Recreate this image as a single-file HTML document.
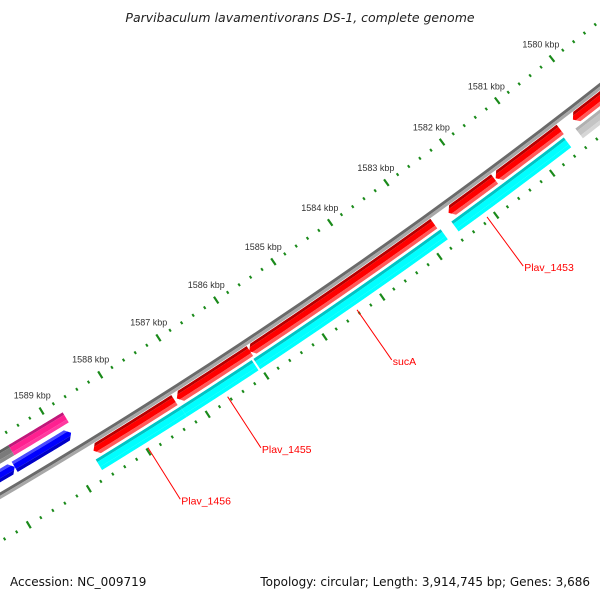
<!DOCTYPE html>
<html><head><meta charset="utf-8"><style>
body{margin:0;background:#fff}
svg{display:block;font-family:"Liberation Sans",sans-serif}
</style></head><body>
<svg id="map" width="600" height="600" viewBox="0 0 600 600" xmlns="http://www.w3.org/2000/svg">
<rect width="600" height="600" fill="#fff"/>
<text x="300" y="22" text-anchor="middle" font-size="12.5" font-style="italic" fill="#222" style="font-family:'DejaVu Sans',sans-serif">Parvibaculum lavamentivorans DS-1, complete genome</text>
<g id="rings"></g>
<text x="10" y="586" font-size="12" fill="#111" style="font-family:'DejaVu Sans',sans-serif">Accession: NC_009719</text>
<text x="590" y="586" text-anchor="end" font-size="12" fill="#111" style="font-family:'DejaVu Sans',sans-serif">Topology: circular; Length: 3,914,745 bp; Genes: 3,686</text>
</svg>
<script>
// data (bp)
const redStarts=[1578000,1580530,1581710,1582790,1586000,1587290];
const redEnds=[1580300,1581690,1582530,1586010,1587250,1588660];
const redNames=["gene-a","gene-b","Plav_1453","sucA","Plav_1455","Plav_1456"];
const cyanStarts=[1580560,1582760,1586050,1587270];
const cyanEnds=[1582570,1586020,1587270,1588700];
const lgrayStarts=[1578000];
const lgrayEnds=[1580350];
const pinkStarts=[1588750];
const pinkEnds=[1589670];
const dgrayStarts=[1589670];
const dgrayEnds=[1592500];
const blueStarts=[1588800,1589750];
const blueEnds=[1589750,1592500];
const labelNames=["Plav_1453","sucA","Plav_1455","Plav_1456"];
const labelGenes=[2,3,4,5];
const tickKbp=[];for(let k=15780;k<=15920;k+=2)tickKbp.push(k/10);
const majorLabels=[1580,1581,1582,1583,1584,1585,1586,1587,1588,1589,1590];

const NS="http://www.w3.org/2000/svg";
const CX=-2749,CY=-4177;
function phi(bp){return (52.07+(bp/1000-1580)*0.7356)*Math.PI/180;}
function pt(bp,r){const a=phi(bp);return [CX+r*Math.cos(a),CY+r*Math.sin(a)];}
const g=document.getElementById('rings');
function el(tag,attrs){const e=document.createElementNS(NS,tag);for(const k in attrs)e.setAttribute(k,attrs[k]);g.appendChild(e);return e;}
function arcPts(b1,b2,r,n){const p=[];for(let i=0;i<=n;i++){p.push(pt(b1+(b2-b1)*i/n,r));}return p;}
function band(b1,b2,r0,r1){const a=arcPts(b1,b2,r0,30),b=arcPts(b2,b1,r1,30);return a.concat(b).map(p=>p[0].toFixed(2)+','+p[1].toFixed(2)).join(' ');}
const pxbp=69;
function arrowShape(b1,b2,r0,r1,dir){
  const d=5/pxbp*1000, rm=(r0+r1)/2;let pts=[];
  if(dir===1){pts=arcPts(b1,b2-d,r0,30).concat([pt(b2,rm)]).concat(arcPts(b2-d,b1,r1,30));}
  else if(dir===-1){pts=[pt(b1,rm)].concat(arcPts(b1+d,b2,r0,30)).concat(arcPts(b2,b1+d,r1,30));}
  else{pts=arcPts(b1,b2,r0,30).concat(arcPts(b2,b1,r1,30));}
  return pts.map(p=>p[0].toFixed(2)+','+p[1].toFixed(2)).join(' ');}
let cid=0;
function gene(b1,b2,r0,r1,cols,dir,name){
  const id='c'+(cid++);
  const cp=document.createElementNS(NS,'clipPath');cp.setAttribute('id',id);
  const poly=document.createElementNS(NS,'polygon');poly.setAttribute('points',arrowShape(b1,b2,r0,r1,dir));cp.appendChild(poly);
  g.appendChild(cp);
  const grp=el('g',{'clip-path':'url(#'+id+')'});
  
  
  const w=r1-r0;
  const parts=[[r0,r0+w*0.25,cols[0]],[r0+w*0.25,r1-w*0.3,cols[1]],[r1-w*0.3,r1,cols[2]]];
  parts.forEach(p=>{const q=document.createElementNS(NS,'polygon');q.setAttribute('points',band(b1-200,b2+200,p[0],p[1]));q.setAttribute('fill',p[2]);grp.appendChild(q);});
}
const bb=el('polygon',{points:band(1577000,1593000,5418.5,5421.5),fill:'#6a6a6a'});


const bb2=el('polygon',{points:band(1577000,1593000,5421.5,5424.5),fill:'#a8a8a8'});


[5370,5461].forEach((r,ri)=>{tickKbp.forEach(k=>{const major=Math.abs(k-Math.round(k))<1e-6;const h=major?4:1.5;
  const a=pt(k*1000,r-h),b=pt(k*1000,r+h);
  const t=el('line',{x1:a[0],y1:a[1],x2:b[0],y2:b[1],stroke:'#1a8a1a','stroke-width':major?2.2:2});
  
  });});
majorLabels.forEach(k=>{const p=pt(k*1000,5352);const t=el('text',{x:p[0],y:p[1]+3,'text-anchor':'middle','font-size':9,fill:'#333'});t.textContent=k+' kbp';
  
  });
redStarts.forEach((s,i)=>gene(s,redEnds[i],5425,5437,['#b80000','#ff0000','#ff5a5a'],1,'gene-'+redNames[i]));
cyanStarts.forEach((s,i)=>gene(s,cyanEnds[i],5439.5,5452,['#00c4c4','#00ffff','#00ffff'],0,'cyan-feature'));
lgrayStarts.forEach((s,i)=>gene(s,lgrayEnds[i],5439.5,5452,['#b0b0b0','#c4c4c4','#d6d6d6'],0,'gray-feature'));
pinkStarts.forEach((s,i)=>gene(s,pinkEnds[i],5382,5394,['#c0187a','#ff2090','#ff3aa0'],0,'pink-feature'));
dgrayStarts.forEach((s,i)=>gene(s,dgrayEnds[i],5382,5394,['#606060','#7a7a7a','#8a8a8a'],0,'gray-feature-inner'));
blueStarts.forEach((s,i)=>gene(s,blueEnds[i],5398,5410,['#4a4aff','#0000ff','#0000c8'],-1,'blue-gene'));
labelNames.forEach((n,i)=>{const gi=labelGenes[i];const m=(redStarts[gi]+redEnds[gi])/2;
  const a=pt(m,5457),b=pt(m,5518);
  const l=el('line',{x1:a[0],y1:a[1],x2:b[0],y2:b[1],stroke:'#ff0000','stroke-width':1});
  
  
  const t=el('text',{x:b[0]+1,y:b[1]+5,'font-size':10.5,fill:'#ff0000'});t.textContent=n;
  
  });
</script>
</body></html>
